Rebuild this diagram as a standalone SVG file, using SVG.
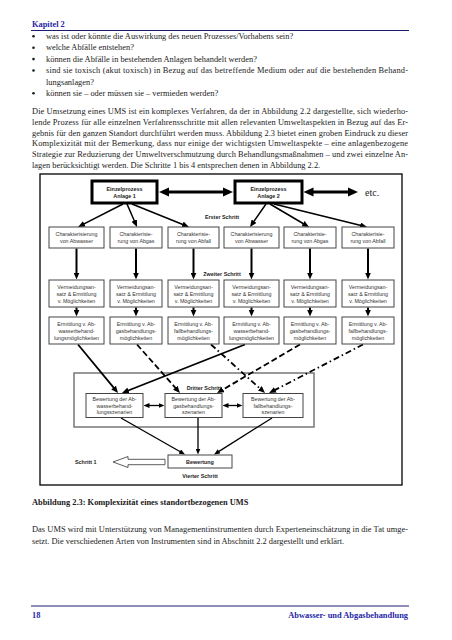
<svg xmlns="http://www.w3.org/2000/svg" width="452" height="640" viewBox="0 0 452 640">
<defs>
<style>
.body{font-family:"Liberation Serif","Times New Roman",serif;font-size:8.4px;fill:#1a1a1a}
.bold{font-weight:bold}
.blue{fill:#2626a6}
.rule{stroke:#1c1c6e;stroke-width:1.2}
.frame{fill:none;stroke:#000;stroke-width:1.3}
.inner{fill:none;stroke:#777;stroke-width:1.5}
.box{fill:#fff;stroke:#444;stroke-width:1}
.proc{fill:#fff;stroke:#000;stroke-width:3}
.t{font-family:"Liberation Sans",Arial,sans-serif;font-size:5.3px;fill:#333;text-anchor:middle}
.tb{font-family:"Liberation Sans",Arial,sans-serif;font-size:5.4px;font-weight:bold;fill:#222;text-anchor:middle}
.lab{font-family:"Liberation Sans",Arial,sans-serif;font-size:5.4px;font-weight:bold;fill:#222}
.thick{stroke:#000;stroke-width:3;fill:none;marker-start:url(#big);marker-end:url(#big)}
.fan{stroke:#000;stroke-width:1.5;fill:none;marker-end:url(#med)}
.vert{stroke:#000;stroke-width:2;fill:none;marker-end:url(#med)}
.sol{stroke:#000;stroke-width:1.8;fill:none;marker-end:url(#med)}
.dash{stroke:#000;stroke-width:1.8;fill:none;stroke-dasharray:6 3;marker-end:url(#med)}
.dd{stroke:#000;stroke-width:1.8;fill:none;stroke-dasharray:6 3 1.5 3;marker-end:url(#med)}
.thin{stroke:#000;stroke-width:1.3;fill:none;marker-end:url(#sm)}
.dbl{stroke:#000;stroke-width:1.3;fill:none;marker-start:url(#sm);marker-end:url(#sm)}
</style>
<marker id="big" markerUnits="userSpaceOnUse" markerWidth="10" markerHeight="10" viewBox="0 0 10 10" refX="4" refY="5" orient="auto-start-reverse"><path d="M0,0.5 L10,5 L0,9.5 z" fill="#000"/></marker>
<marker id="med" markerUnits="userSpaceOnUse" markerWidth="7" markerHeight="6" viewBox="0 0 7 6" refX="3" refY="3" orient="auto-start-reverse"><path d="M0,0 L7,3 L0,6 z" fill="#000"/></marker>
<marker id="sm" markerUnits="userSpaceOnUse" markerWidth="6" markerHeight="5" viewBox="0 0 6 5" refX="2.5" refY="2.5" orient="auto-start-reverse"><path d="M0,0 L6,2.5 L0,5 z" fill="#000"/></marker>
</defs>
<rect width="452" height="640" fill="#fff"/>

<g id="page-text">
<text class="body bold blue" x="32" y="27">Kapitel 2</text>
<line class="rule" x1="31" y1="30.5" x2="409" y2="30.5"/>
<g fill="#1a1a1a">
<circle cx="33.5" cy="36.3" r="1.3"/><circle cx="33.5" cy="47.7" r="1.3"/><circle cx="33.5" cy="59.1" r="1.3"/><circle cx="33.5" cy="70.5" r="1.3"/><circle cx="33.5" cy="93.3" r="1.3"/>
</g>
<text class="body" x="46" y="39">was ist oder könnte die Auswirkung des neuen Prozesses/Vorhabens sein?</text>
<text class="body" x="46" y="50.4">welche Abfälle entstehen?</text>
<text class="body" x="46" y="61.8">können die Abfälle in bestehenden Anlagen behandelt werden?</text>
<text class="body" x="46" y="73.2" textLength="362" lengthAdjust="spacing">sind sie toxisch (akut toxisch) in Bezug auf das betreffende Medium oder auf die bestehenden Behand-</text>
<text class="body" x="46" y="84.6">lungsanlagen?</text>
<text class="body" x="46" y="96">können sie – oder müssen sie – vermieden werden?</text>

<text class="body" x="32" y="114" textLength="376" lengthAdjust="spacing">Die Umsetzung eines UMS ist ein komplexes Verfahren, da der in Abbildung 2.2 dargestellte, sich wiederho-</text>
<text class="body" x="32" y="124.8" textLength="376" lengthAdjust="spacing">lende Prozess für alle einzelnen Verfahrensschritte mit allen relevanten Umweltaspekten in Bezug auf das Er-</text>
<text class="body" x="32" y="135.6" textLength="376" lengthAdjust="spacing">gebnis für den ganzen Standort durchführt werden muss. Abbildung 2.3 bietet einen groben Eindruck zu dieser</text>
<text class="body" x="32" y="146.4" textLength="376" lengthAdjust="spacing">Komplexizität mit der Bemerkung, dass nur einige der wichtigsten Umweltaspekte – eine anlagenbezogene</text>
<text class="body" x="32" y="157.2" textLength="376" lengthAdjust="spacing">Strategie zur Reduzierung der Umweltverschmutzung durch Behandlungsmaßnahmen – und zwei einzelne An-</text>
<text class="body" x="32" y="168">lagen berücksichtigt werden. Die Schritte 1 bis 4 entsprechen denen in Abbildung 2.2.</text>

<text class="body bold" x="32" y="505">Abbildung 2.3: Komplexizität eines standortbezogenen UMS</text>
<text class="body" x="32" y="532" textLength="376" lengthAdjust="spacing">Das UMS wird mit Unterstützung von Managementinstrumenten durch Experteneinschätzung in die Tat umge-</text>
<text class="body" x="32" y="543.5">setzt. Die verschiedenen Arten von Instrumenten sind in Abschnitt 2.2 dargestellt und erklärt.</text>

<line class="rule" x1="31" y1="606" x2="409" y2="606"/>
<text class="body bold blue" x="32" y="618">18</text>
<text class="body bold blue" x="408" y="618" text-anchor="end">Abwasser- und Abgasbehandlung</text>
</g>

<rect id="figure-frame" class="frame" x="40" y="174" width="362" height="311"/>
<rect id="step3-frame" class="inner" x="74" y="373" width="240" height="54"/>

<g id="labels">
<text class="tb" x="222" y="219">Erster Schritt</text>
<text class="tb" x="222" y="276">Zweiter Schritt</text>
<text class="tb" x="204" y="390">Dritter Schritt</text>
<text class="tb" x="200" y="478">Vierter Schritt</text>
<text x="365" y="196" font-family="Liberation Serif, Times New Roman, serif" font-size="10" fill="#222">etc.</text>
</g>

<g id="connectors">
<line class="thick" x1="165" y1="192" x2="227" y2="192"/>
<line class="thick" x1="309.5" y1="192" x2="352" y2="192"/>
<line class="fan" x1="123" y1="204" x2="81.6" y2="225.2"/>
<line class="fan" x1="127" y1="204" x2="135.4" y2="223.3"/>
<line class="fan" x1="132" y1="204" x2="185.3" y2="225.5"/>
<line class="fan" x1="266" y1="204" x2="252.3" y2="223.7"/>
<line class="fan" x1="270" y1="204" x2="305.6" y2="225"/>
<line class="fan" x1="274" y1="204" x2="363.1" y2="226"/>
<line class="vert" x1="76.5" y1="248.5" x2="76.5" y2="275.5"/>
<line class="vert" x1="136" y1="248.5" x2="136" y2="275.5"/>
<line class="vert" x1="193.5" y1="248.5" x2="193.5" y2="275.5"/>
<line class="vert" x1="251.5" y1="248.5" x2="251.5" y2="275.5"/>
<line class="vert" x1="310" y1="248.5" x2="310" y2="275.5"/>
<line class="vert" x1="368" y1="248.5" x2="368" y2="275.5"/>
<line class="vert" x1="76.5" y1="307.5" x2="76.5" y2="312.5"/>
<line class="vert" x1="136" y1="307.5" x2="136" y2="312.5"/>
<line class="vert" x1="193.5" y1="307.5" x2="193.5" y2="312.5"/>
<line class="vert" x1="251.5" y1="307.5" x2="251.5" y2="312.5"/>
<line class="vert" x1="310" y1="307.5" x2="310" y2="312.5"/>
<line class="vert" x1="368" y1="307.5" x2="368" y2="312.5"/>
<line class="sol" x1="78" y1="344.5" x2="115.5" y2="389.9"/>
<line class="sol" x1="245" y1="344.5" x2="125.7" y2="391.5"/>
<line class="dash" x1="137" y1="344.5" x2="177.3" y2="390"/>
<line class="dash" x1="300" y1="344.5" x2="220.5" y2="391"/>
<line class="dd" x1="211" y1="344.5" x2="262" y2="390.3"/>
<line class="dd" x1="363" y1="344.5" x2="272.6" y2="391.2"/>
<line class="dbl" x1="147" y1="405.5" x2="161" y2="405.5"/>
<line class="dbl" x1="226" y1="405.5" x2="239" y2="405.5"/>
<line class="thin" x1="121" y1="418" x2="182" y2="452.8"/>
<line class="thin" x1="198" y1="418" x2="198" y2="451"/>
<line class="thin" x1="272" y1="418" x2="217" y2="452.6"/>
</g>

<g id="anlage1"><rect class="proc" x="92" y="181" width="65" height="22"/><text class="tb" x="124.5" y="190.5">Einzelprozess</text><text class="tb" x="124.5" y="198">Anlage 1</text></g>
<g id="anlage2"><rect class="proc" x="235" y="181" width="67" height="22"/><text class="tb" x="268.5" y="190.5">Einzelprozess</text><text class="tb" x="268.5" y="198">Anlage 2</text></g>

<g id="char1"><rect class="box" x="49" y="227" width="55" height="21"/><text class="t" x="76.5" y="236">Charakterisierung</text><text class="t" x="76.5" y="243">von Abwasser</text></g>
<g id="char2"><rect class="box" x="110" y="227" width="52" height="21"/><text class="t" x="136" y="236">Charakterisie-</text><text class="t" x="136" y="243">rung von Abgas</text></g>
<g id="char3"><rect class="box" x="168" y="227" width="51" height="21"/><text class="t" x="193.5" y="236">Charakterisie-</text><text class="t" x="193.5" y="243">rung von Abfall</text></g>
<g id="char4"><rect class="box" x="224" y="227" width="55" height="21"/><text class="t" x="251.5" y="236">Charakterisierung</text><text class="t" x="251.5" y="243">von Abwasser</text></g>
<g id="char5"><rect class="box" x="284" y="227" width="52" height="21"/><text class="t" x="310" y="236">Charakterisie-</text><text class="t" x="310" y="243">rung von Abgas</text></g>
<g id="char6"><rect class="box" x="342" y="227" width="52" height="21"/><text class="t" x="368" y="236">Charakterisie-</text><text class="t" x="368" y="243">rung von Abfall</text></g>

<g id="verm1"><rect class="box" x="49" y="280" width="55" height="27"/><text class="t" x="76.5" y="288.5">Vermeidungsan-</text><text class="t" x="76.5" y="295.5">satz &amp; Ermittlung</text><text class="t" x="76.5" y="302.5">v. Möglichkeiten</text></g>
<g id="verm2"><rect class="box" x="110" y="280" width="52" height="27"/><text class="t" x="136" y="288.5">Vermeidungsan-</text><text class="t" x="136" y="295.5">satz &amp; Ermittlung</text><text class="t" x="136" y="302.5">v. Möglichkeiten</text></g>
<g id="verm3"><rect class="box" x="168" y="280" width="51" height="27"/><text class="t" x="193.5" y="288.5">Vermeidungsan-</text><text class="t" x="193.5" y="295.5">satz &amp; Ermittlung</text><text class="t" x="193.5" y="302.5">v. Möglichkeiten</text></g>
<g id="verm4"><rect class="box" x="224" y="280" width="55" height="27"/><text class="t" x="251.5" y="288.5">Vermeidungsan-</text><text class="t" x="251.5" y="295.5">satz &amp; Ermittlung</text><text class="t" x="251.5" y="302.5">v. Möglichkeiten</text></g>
<g id="verm5"><rect class="box" x="284" y="280" width="52" height="27"/><text class="t" x="310" y="288.5">Vermeidungsan-</text><text class="t" x="310" y="295.5">satz &amp; Ermittlung</text><text class="t" x="310" y="302.5">v. Möglichkeiten</text></g>
<g id="verm6"><rect class="box" x="342" y="280" width="52" height="27"/><text class="t" x="368" y="288.5">Vermeidungsan-</text><text class="t" x="368" y="295.5">satz &amp; Ermittlung</text><text class="t" x="368" y="302.5">v. Möglichkeiten</text></g>

<g id="erm1"><rect class="box" x="49" y="317" width="55" height="27"/><text class="t" x="76.5" y="325.5">Ermittlung v. Ab-</text><text class="t" x="76.5" y="332.5">wasserbehand-</text><text class="t" x="76.5" y="339.5">lungsmöglichkeiten</text></g>
<g id="erm2"><rect class="box" x="110" y="317" width="52" height="27"/><text class="t" x="136" y="325.5">Ermittlung v. Ab-</text><text class="t" x="136" y="332.5">gasbehandlungs-</text><text class="t" x="136" y="339.5">möglichkeiten</text></g>
<g id="erm3"><rect class="box" x="168" y="317" width="51" height="27"/><text class="t" x="193.5" y="325.5">Ermittlung v. Ab-</text><text class="t" x="193.5" y="332.5">fallbehandlungs-</text><text class="t" x="193.5" y="339.5">möglichkeiten</text></g>
<g id="erm4"><rect class="box" x="224" y="317" width="55" height="27"/><text class="t" x="251.5" y="325.5">Ermittlung v. Ab-</text><text class="t" x="251.5" y="332.5">wasserbehand-</text><text class="t" x="251.5" y="339.5">lungsmöglichkeiten</text></g>
<g id="erm5"><rect class="box" x="284" y="317" width="52" height="27"/><text class="t" x="310" y="325.5">Ermittlung v. Ab-</text><text class="t" x="310" y="332.5">gasbehandlungs-</text><text class="t" x="310" y="339.5">möglichkeiten</text></g>
<g id="erm6"><rect class="box" x="342" y="317" width="52" height="27"/><text class="t" x="368" y="325.5">Ermittlung v. Ab-</text><text class="t" x="368" y="332.5">fallbehandlungs-</text><text class="t" x="368" y="339.5">möglichkeiten</text></g>

<g id="bew-abwasser"><rect class="box" x="86" y="393.5" width="57" height="24"/><text class="t" x="114.5" y="401">Bewertung der Ab-</text><text class="t" x="114.5" y="407.5">wasserbehand-</text><text class="t" x="114.5" y="414">lungsszenarien</text></g>
<g id="bew-abgas"><rect class="box" x="165" y="393.5" width="57" height="24"/><text class="t" x="193.5" y="401">Bewertung der Ab-</text><text class="t" x="193.5" y="407.5">gasbehandlungs-</text><text class="t" x="193.5" y="414">szenarien</text></g>
<g id="bew-abfall"><rect class="box" x="243" y="393.5" width="60" height="24"/><text class="t" x="273" y="401">Bewertung der Ab-</text><text class="t" x="273" y="407.5">fallbehandlungs-</text><text class="t" x="273" y="414">szenarien</text></g>

<g id="bewertung"><rect class="box" x="168" y="455" width="64" height="13"/><text class="tb" x="200" y="463.5">Bewertung</text></g>

<g id="schritt1">
<polygon points="113,462 128,456.5 128,459.3 165,459.3 165,464.7 128,464.7 128,467.5" fill="#fff" stroke="#333" stroke-width="0.8"/>
<text class="lab" x="75" y="464">Schritt 1</text>
</g>
</svg>
